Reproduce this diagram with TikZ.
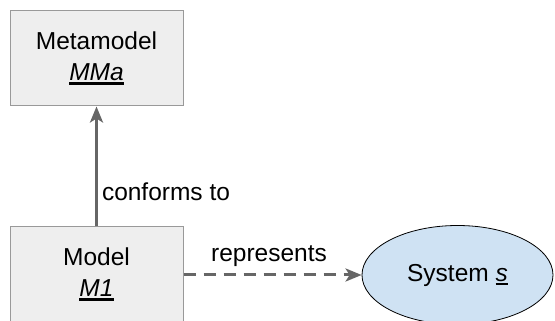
\documentclass[tikz,border=0pt]{standalone}
\usepackage{fontspec}
\setmainfont{Liberation Sans}
\usetikzlibrary{arrows.meta,positioning,shapes.geometric}
\definecolor{boxfill}{HTML}{EEEEEE}
\definecolor{boxline}{HTML}{999999}
\definecolor{arrowgray}{HTML}{666666}
\definecolor{sysfill}{HTML}{CFE2F3}
\newcommand{\instname}[1]{\vtop{\hbox{\textit{#1}}\kern1.5pt\hrule height 2.6pt}}
\begin{document}
\begin{tikzpicture}[x=1pt, y=1pt, >={Stealth[length=16pt, width=13pt, inset=4pt]},
  every node/.style={font=\fontsize{24.5}{31}\selectfont},
  modelbox/.style={draw=boxline, fill=boxfill, line width=1pt, minimum width=173pt, minimum height=95pt, align=center, inner sep=0pt},
  sysellipse/.style={ellipse, draw=black, fill=sysfill, line width=0.8pt, minimum width=191pt, minimum height=99pt, inner sep=0pt},
  conn/.style={draw=arrowgray, line width=3pt}]
\clip (0,0) rectangle (555,321);
\useasboundingbox (0,0) rectangle (555,321);
\node [modelbox] (meta) at (96.5,262.5) {Metamodel\\\instname{MMa}};
\node [modelbox] (model) at (96.5,46.5) {Model\\\instname{M1}};
\node [sysellipse] (system) at (457.5,46) {System \instname{s}};
% relations
\draw [conn, ->] (model) -- node [pos=0.29, right, inner sep=4pt] {conforms to} (meta);
\draw [conn, ->, dash pattern=on 12pt off 8pt] (model.east |- system.west) -- node [pos=0.48, above, inner sep=7pt] {represents} (system.west);
\end{tikzpicture}
\end{document}
